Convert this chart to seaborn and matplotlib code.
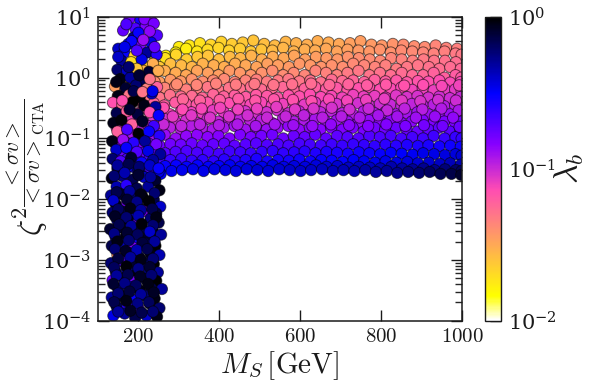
"""Relic density ratio vs scalar mass, coloured by lambda_b."""
import matplotlib
matplotlib.use('Agg')
import matplotlib.pyplot as plt
from matplotlib.colors import LogNorm
from matplotlib.cm import ScalarMappable
from matplotlib.ticker import LogLocator, NullLocator, FixedLocator, NullFormatter
import pandas as pd
import seaborn as sns

# --- main band ---
band_ms = [
    300,326,352,379,405,431,458,484,511,537,564,590,617,643,670,696,723,749,776,802,829,855,882,908,935,961,988,
    268,292,318,345,371,398,424,451,478,504,531,558,584,611,637,664,691,717,744,771,797,824,850,877,904,930,957,984,999,
    240,266,293,319,346,372,399,426,452,479,505,532,559,585,612,639,665,692,718,745,772,798,825,851,878,905,931,958,985,
    212,238,252,279,306,332,359,386,412,439,465,492,519,545,572,598,625,652,678,705,731,758,785,811,838,864,891,918,944,971,997,
    186,212,238,265,292,318,345,372,398,425,451,478,505,531,558,584,611,638,664,691,717,744,771,797,824,851,877,904,930,957,984,998,
    170,198,225,252,279,305,332,359,385,412,438,465,492,518,545,571,598,625,651,678,704,731,758,784,811,838,864,891,917,944,971,997,
    156,184,211,238,265,291,318,345,371,398,424,451,478,504,531,557,584,611,637,664,690,717,744,770,797,824,850,877,903,930,957,983,999,
    149,170,198,225,252,278,305,332,358,385,411,438,465,491,518,544,571,598,624,651,677,704,731,757,784,811,837,864,890,917,944,970,996,
    158,184,211,238,264,291,318,344,371,397,424,451,477,504,530,557,584,610,637,663,690,717,743,770,797,823,850,876,903,930,956,983,999,
    150,171,198,225,251,278,305,331,358,384,411,438,464,491,517,544,571,597,624,650,677,704,730,757,784,810,837,863,890,917,943,970,996,
    158,184,211,238,264,291,318,344,371,397,424,451,477,504,530,557,584,610,637,663,690,717,743,770,797,823,850,876,903,930,956,983,999,
    146,171,198,225,251,278,305,331,358,384,411,438,464,491,517,544,571,597,624,650,677,704,730,757,784,810,837,863,890,917,943,970,996,
    158,185,212,238,265,292,318,345,371,398,425,451,478,504,531,558,584,611,637,664,691,717,744,771,797,824,850,877,904,930,957,984,999,
    144,172,199,225,252,279,305,332,358,385,412,438,465,491,518,545,571,598,624,651,678,704,731,758,784,811,837,864,891,917,944,971,997,
    155,186,212,239,266,292,319,345,372,399,425,452,478,505,532,558,585,611,638,665,691,718,745,771,798,824,851,878,904,931,958,984,999,
    142,172,199,226,253,279,306,332,359,386,412,439,465,492,519,545,572,598,625,652,678,705,732,758,785,811,838,865,891,918,945,971,997,
    150,186,213,240,266,293,319,346,373,399,426,452,479,506,532,559,585,612,639,665,692,719,745,772,798,825,852,878,905,932,958,985,999,
    200,228,255,282,308,335,361,388,415,441,468,494,521,548,574,601,627,654,681,707,734,761,787,814,840,867,894,920,947,974,998,
    310,352,401,447,489,535,582,628,671,716,763,808,851,897,941,985,
    262,309,356,402,446,493,541,587,633,678,722,769,815,858,902,949,992,
    285,331,377,424,470,518,564,609,655,702,747,793,840,886,933,978,
    262,306,352,399,445,490,537,583,630,676,721,768,813,860,906,952,994,
    295,344,392,441,487,534,580,627,672,719,765,812,857,904,950,993,
]
band_ratio = [
    3.2,3.4,3.7,3.5,3.9,3.6,3.8,4.1,3.6,3.4,3.9,3.7,3.5,4.0,3.8,3.6,3.7,4.0,3.5,3.4,3.6,3.5,3.3,3.2,3.4,3.1,3.0,
    2.3,2.6,3.0,2.7,2.9,3.1,2.8,3.0,2.7,2.9,2.8,3.1,2.7,2.9,2.8,3.0,2.7,2.9,2.8,2.7,2.9,2.6,2.8,2.7,2.6,2.5,2.7,2.5,2.4,
    2.3,2.1,2.4,2.0,2.2,2.3,2.0,2.2,2.1,2.3,2.0,2.2,2.1,2.3,2.0,2.2,2.1,2.0,2.2,2.1,2.0,1.9,2.1,2.0,1.9,2.0,1.9,1.9,1.8,
    1.6,1.7,1.5,1.7,1.6,1.5,1.7,1.6,1.5,1.7,1.6,1.5,1.7,1.6,1.5,1.7,1.6,1.5,1.6,1.5,1.7,1.6,1.5,1.6,1.4,1.5,1.6,1.5,1.4,1.5,1.4,
    1.2,1.3,1.1,1.3,1.2,1.1,1.3,1.2,1.1,1.3,1.2,1.1,1.2,1.3,1.1,1.2,1.1,1.3,1.2,1.1,1.2,1.3,1.1,1.2,1.1,1.2,1.1,1.1,1.2,1.0,1.1,1.0,
    .92,.88,.95,.85,.92,.87,.94,.86,.9,.95,.85,.9,.93,.86,.9,.95,.87,.9,.84,.93,.88,.9,.85,.92,.87,.9,.84,.88,.86,.9,.83,.85,
    .68,.65,.7,.63,.68,.72,.64,.67,.7,.63,.68,.66,.71,.64,.67,.7,.63,.66,.7,.65,.68,.63,.67,.7,.64,.66,.69,.63,.66,.62,.65,.64,.61,
    .5,.53,.48,.51,.47,.52,.49,.5,.47,.53,.49,.51,.48,.52,.5,.47,.51,.49,.53,.48,.5,.47,.52,.49,.5,.47,.51,.48,.5,.47,.49,.46,.48,
    .37,.39,.36,.38,.35,.39,.37,.36,.39,.35,.38,.37,.36,.39,.35,.37,.38,.36,.39,.35,.37,.36,.38,.35,.37,.36,.34,.37,.35,.36,.34,.35,.36,
    .27,.28,.26,.29,.27,.25,.28,.27,.26,.29,.27,.25,.28,.26,.27,.29,.26,.28,.25,.27,.28,.26,.25,.28,.26,.27,.25,.26,.27,.25,.26,.25,.24,
    .2,.21,.19,.2,.21,.19,.2,.18,.21,.19,.2,.21,.19,.2,.18,.21,.19,.2,.21,.19,.2,.19,.18,.2,.19,.2,.18,.19,.2,.18,.19,.18,.19,
    .15,.14,.15,.16,.14,.15,.14,.16,.15,.14,.15,.16,.14,.15,.14,.15,.16,.14,.15,.14,.15,.14,.15,.13,.15,.14,.15,.14,.13,.14,.15,.13,.14,
    .11,.12,.105,.11,.115,.1,.11,.115,.105,.11,.1,.115,.105,.11,.115,.1,.11,.105,.115,.1,.11,.105,.1,.11,.105,.11,.1,.105,.1,.11,.1,.105,.1,
    .08,.083,.078,.082,.076,.081,.079,.083,.077,.08,.082,.076,.08,.083,.078,.08,.076,.082,.079,.077,.08,.076,.08,.078,.075,.079,.076,.078,.075,.077,.074,.076,.073,
    .06,.062,.058,.061,.057,.06,.062,.058,.06,.056,.061,.059,.057,.06,.062,.057,.059,.061,.057,.06,.058,.056,.059,.057,.055,.058,.056,.054,.057,.055,.053,.055,.052,
    .045,.046,.043,.045,.042,.044,.046,.043,.044,.042,.045,.043,.044,.046,.042,.044,.043,.045,.042,.044,.043,.041,.044,.042,.04,.042,.04,.041,.039,.04,.038,.039,.037,
    .036,.034,.035,.033,.035,.036,.034,.036,.034,.035,.036,.034,.035,.034,.036,.034,.035,.034,.036,.034,.035,.033,.034,.033,.032,.034,.032,.031,.032,.03,.031,.03,.029,
    .027,.026,.026,.029,.03,.031,.029,.031,.03,.029,.031,.03,.029,.031,.03,.029,.03,.031,.029,.03,.029,.03,.028,.029,.027,.028,.027,.028,.026,.026,.025,
    .44,.42,.43,.45,.42,.44,.43,.41,.44,.42,.43,.45,.42,.41,.43,.42,
    .32,.3,.31,.32,.3,.31,.33,.3,.31,.32,.3,.31,.29,.31,.3,.31,.29,
    .23,.24,.22,.23,.24,.22,.23,.24,.22,.23,.22,.24,.23,.22,.23,.22,
    .17,.16,.17,.165,.17,.16,.17,.165,.16,.17,.165,.16,.17,.16,.165,.16,.155,
    .78,.76,.8,.77,.79,.76,.78,.8,.76,.78,.75,.77,.74,.76,.73,.75,
]
band_lam = [
    .017,.018,.019,.021,.022,.023,.024,.025,.026,.027,.028,.029,.03,.03,.031,.032,.034,.035,.036,.037,.038,.04,.04,.041,.043,.044,.046,
    .016,.016,.017,.018,.02,.021,.022,.023,.024,.025,.027,.028,.029,.03,.031,.032,.033,.034,.036,.037,.038,.039,.041,.042,.043,.045,.046,.048,.049,
    .016,.019,.021,.023,.024,.025,.026,.027,.028,.029,.03,.031,.032,.033,.034,.035,.036,.037,.038,.04,.041,.042,.043,.045,.046,.048,.05,.052,.054,
    .024,.024,.024,.026,.027,.028,.029,.03,.03,.031,.032,.033,.034,.035,.036,.037,.037,.038,.039,.04,.042,.043,.044,.046,.047,.049,.05,.052,.054,.055,.057,
    .028,.029,.029,.03,.031,.032,.033,.034,.035,.036,.037,.038,.039,.04,.041,.042,.043,.044,.045,.046,.048,.049,.051,.052,.054,.055,.057,.058,.06,.061,.063,.064,
    .032,.033,.034,.035,.036,.037,.038,.04,.041,.042,.043,.044,.046,.047,.048,.049,.05,.052,.053,.055,.056,.058,.06,.061,.063,.065,.066,.068,.07,.072,.074,.075,
    .038,.04,.041,.042,.043,.044,.046,.047,.049,.05,.051,.053,.054,.055,.056,.057,.059,.06,.062,.064,.065,.067,.069,.07,.072,.074,.075,.078,.08,.082,.084,.086,.087,
    .045,.047,.048,.05,.051,.052,.054,.055,.057,.058,.06,.062,.063,.064,.066,.067,.069,.07,.072,.074,.076,.078,.08,.082,.083,.085,.087,.09,.092,.094,.096,.098,.1,
    .055,.056,.058,.06,.062,.063,.065,.066,.068,.07,.072,.073,.075,.076,.078,.08,.082,.084,.086,.088,.09,.092,.094,.096,.098,.1,.102,.105,.107,.11,.112,.114,.116,
    .065,.067,.07,.072,.074,.076,.078,.08,.082,.084,.086,.088,.09,.092,.094,.096,.098,.1,.102,.104,.106,.108,.11,.113,.115,.118,.12,.123,.125,.128,.13,.133,.135,
    .078,.08,.084,.088,.09,.092,.094,.096,.098,.1,.102,.104,.106,.108,.11,.112,.115,.117,.12,.122,.125,.127,.13,.132,.135,.137,.14,.143,.146,.15,.153,.156,.16,
    .09,.095,.1,.103,.105,.108,.11,.112,.115,.118,.12,.122,.125,.128,.13,.133,.136,.138,.14,.143,.146,.15,.153,.156,.16,.163,.166,.17,.173,.176,.18,.185,.19,
    .115,.12,.125,.128,.13,.133,.136,.14,.143,.146,.15,.153,.156,.16,.163,.166,.17,.173,.176,.18,.184,.188,.19,.195,.2,.204,.208,.212,.216,.22,.225,.23,.235,
    .14,.145,.15,.155,.16,.163,.166,.17,.173,.176,.18,.184,.188,.19,.195,.2,.204,.208,.212,.216,.22,.225,.23,.235,.24,.245,.25,.26,.265,.27,.28,.285,.29,
    .17,.175,.18,.185,.19,.195,.2,.204,.208,.212,.216,.22,.225,.23,.235,.24,.245,.25,.26,.265,.27,.28,.285,.29,.3,.31,.32,.33,.34,.35,.36,.37,.38,
    .2,.205,.21,.215,.22,.225,.23,.235,.24,.245,.25,.255,.26,.265,.27,.275,.28,.285,.29,.3,.305,.31,.32,.33,.34,.35,.36,.37,.38,.39,.41,.43,.45,
    .26,.27,.28,.29,.3,.3,.31,.31,.32,.32,.33,.33,.34,.34,.35,.35,.36,.36,.37,.38,.39,.4,.41,.42,.44,.46,.48,.5,.52,.54,.58,.62,.66,
    .32,.33,.33,.34,.34,.35,.35,.36,.36,.37,.37,.38,.38,.39,.4,.4,.41,.42,.43,.44,.45,.47,.49,.51,.54,.57,.6,.64,.68,.72,.8,
    .058,.06,.062,.064,.066,.067,.069,.071,.074,.077,.08,.083,.086,.09,.094,.098,
    .07,.073,.075,.078,.08,.082,.085,.087,.09,.093,.096,.1,.103,.106,.11,.114,.118,
    .085,.088,.09,.093,.096,.1,.103,.106,.11,.113,.117,.12,.124,.128,.132,.137,
    .1,.105,.108,.112,.116,.12,.124,.128,.132,.136,.14,.145,.15,.155,.16,.165,.17,
    .041,.043,.045,.047,.049,.051,.053,.055,.058,.06,.063,.066,.069,.072,.075,.078,
]

# --- low-mass column, drawn on top of the band ---
col_ms = [
    178,205,232,192,218,162,188,246,175,204,231,150,165,190,222,245,158,182,208,236,148,172,196,226,249,
    155,180,212,240,142,168,194,221,246,150,177,203,233,137,160,186,214,242,146,171,198,228,250,
    138,158,184,210,238,148,172,200,226,252,135,162,188,216,244,145,170,196,224,254,
    136,156,182,208,236,148,174,200,228,250,134,160,186,214,242,146,170,196,224,252,
    132,158,184,210,238,144,172,198,226,254,136,162,188,216,244,148,174,200,230,250,
    130,156,182,208,236,144,170,196,224,256,134,160,186,214,242,148,176,202,230,252,
    132,158,184,212,238,144,172,198,226,248,136,164,190,218,244,150,178,204,232,258,
    134,160,186,214,240,146,172,200,228,252,138,166,192,220,246,
    215,238,170,200,228,183,212,166,196,240,
    150,176,202,228,145,188,210,235,160,178,
    148,176,202,228,250,
    140,166,200,230,146,178,206,240,138,172,196,226,150,180,206,234,
    142,170,200,244,152,182,208,236,140,172,198,228,148,176,210,240,
    142,168,196,222,150,180,206,236,140,170,200,228,146,174,204,232,
    138,166,194,224,150,178,206,238,140,170,198,226,150,180,208,236,
]
col_ratio = [
    9.5,8.8,8.5,6.5,7.0,6.0,4.6,5.0,3.6,3.3,3.8,3.0,2.6,2.3,2.6,2.4,1.9,1.8,2.0,1.7,1.35,1.3,1.4,1.25,1.3,
    .95,1.0,.9,.85,.72,.68,.75,.66,.7,.5,.52,.48,.55,.39,.36,.4,.35,.33,.26,.28,.25,.27,.24,
    .18,.2,.17,.19,.16,.13,.14,.12,.13,.11,.09,.095,.085,.09,.08,.065,.07,.06,.062,.055,
    .046,.042,.048,.04,.044,.032,.034,.03,.033,.028,.022,.024,.021,.023,.02,.016,.017,.015,.016,.014,
    .0115,.012,.0105,.011,.0098,.0082,.0086,.0078,.0084,.0075,.006,.0062,.0056,.0064,.0058,.0044,.0046,.0042,.0048,.0041,
    .0032,.0034,.003,.0033,.0029,.0023,.0025,.0022,.0024,.0026,.0017,.0018,.0016,.0019,.0017,.0012,.0013,.0011,.00125,.0012,
    .00088,.00095,.00082,.0009,.00085,.00063,.00068,.0006,.00066,.00062,.00046,.0005,.00044,.00048,.00045,.00033,.00036,.00031,.00034,.00033,
    .00024,.00025,.00022,.00026,.00023,.00017,.00018,.00016,.00019,.00016,.00012,.00013,.00011,.00012,.000115,
    9.2,7.8,7.6,5.5,5.8,4.0,4.2,3.2,2.8,3.2,
    2.2,1.5,1.1,.95,.85,.6,.58,.6,.42,.3,
    .036,.038,.034,.036,.032,
    .024,.027,.025,.023,.013,.0135,.012,.0125,.0095,.0098,.009,.0092,.0068,.007,.0066,.0069,
    .0052,.005,.0053,.005,.0038,.0036,.0039,.0037,.0027,.0028,.0026,.0029,.002,.0021,.0019,.002,
    .0015,.0014,.00145,.0015,.00105,.0011,.001,.00104,.00075,.00078,.00072,.00076,.00055,.00057,.00053,.00056,
    .0004,.00041,.00038,.0004,.00028,.0003,.00027,.00029,.0002,.00021,.00019,.0002,.00014,.000145,.000135,.00014,
]
col_lam = [
    .16,.28,.13,.2,.15,.18,.55,.2,.3,.16,.35,.4,.3,.022,.5,.25,.5,.02,.35,.03,.6,.4,.025,.8,.03,
    .9,.5,.7,.04,.035,.8,.6,.045,.06,.9,.05,.95,.4,.07,.055,1.,.9,.5,.7,.06,.75,.07,.3,
    .9,.95,.06,.85,.22,.06,.2,1.,.3,.25,.9,.13,.25,.5,.16,.4,.3,.2,.35,.5,
    .6,.2,.8,.3,.5,.7,.35,.6,.2,.35,.9,.55,.7,.4,.8,.45,.25,.7,.5,.9,
    .5,.8,.6,.95,.7,.9,.16,.7,1.,.4,.6,.7,.35,.15,.8,.5,.9,.17,.6,.7,
    .8,.8,.5,.7,.9,.6,.9,.3,.8,.5,.7,.4,.15,.6,1.,.04,.5,.7,.9,.45,
    .6,.2,.8,.5,1.,.7,.4,.9,.6,.5,.18,.8,.16,.7,1.,.6,.3,.9,.7,.5,
    .5,.8,.3,.6,.9,.7,.25,.2,.8,.6,.35,.5,.7,.4,.9,
    .15,.16,.2,.3,.14,.3,.13,.35,.2,.18,
    .4,.6,.8,.05,.9,.7,.05,.35,.07,.8,
    .5,.7,.6,.4,.3,
    .6,.45,.8,.5,.7,.5,.9,.6,.4,.8,.55,.95,.65,.9,.5,.7,
    .85,.6,.45,.9,.7,.5,.95,.6,.55,.8,.65,.4,.9,.6,.75,.5,
    .6,.85,.45,.7,.75,.5,.9,.6,.65,.95,.55,.8,.5,.7,.85,.6,
    .8,.55,.65,.9,.6,.75,.5,.85,.7,.9,.55,.65,.5,.85,.7,.6,
]

cbar_ticks = [1e-2, 1e-1, 1e0]

sns.set_theme(style="ticks")
plt.rcParams['mathtext.fontset'] = 'cm'
plt.rcParams['font.family'] = 'serif'
plt.rcParams['axes.unicode_minus'] = False

band = pd.DataFrame({'ms': band_ms, 'ratio': band_ratio, 'lam': band_lam})
column = pd.DataFrame({'ms': col_ms, 'ratio': col_ratio, 'lam': col_lam})
points = pd.concat([band, column], ignore_index=True)

W, H = 591, 390
fig = plt.figure(figsize=(W / 100, H / 100), dpi=100)
ax = fig.add_axes([98 / W, 1 - 320.5 / H, 364 / W, 303.5 / H])
cax = fig.add_axes([485 / W, 1 - 320.5 / H, 16 / W, 303.5 / H])

norm = LogNorm(vmin=1e-2, vmax=1)
sns.scatterplot(
    data=points, x='ms', y='ratio', hue='lam',
    hue_norm=norm, palette='gnuplot2_r', legend=False,
    s=66, edgecolor=(0, 0, 0, 0.55), linewidth=0.7, ax=ax,
)

ax.set_yscale('log')
ax.set_xlim(100, 1000)
ax.set_ylim(1e-4, 1e1)
ax.xaxis.set_major_locator(FixedLocator([200, 400, 600, 800, 1000]))
ax.xaxis.set_minor_locator(NullLocator())
ax.set_xticklabels([f'${v}$' for v in [200, 400, 600, 800, 1000]])
ax.yaxis.set_major_locator(LogLocator(base=10, numticks=10))
ax.yaxis.set_minor_locator(LogLocator(base=10, subs=range(2, 10), numticks=10))
ax.yaxis.set_minor_formatter(NullFormatter())
ax.tick_params(which='major', direction='in', length=8, width=1, top=True, right=True,
               labelsize=15, colors='k', pad=5)
ax.tick_params(which='minor', direction='in', length=5, width=1, left=True, right=True)
for spine in ax.spines.values():
    spine.set_linewidth(1.1)
    spine.set_color('k')

ax.set_xlabel(r'$M_S\,[\mathrm{GeV}]$', fontsize=21, color='k', labelpad=2)
ax.set_ylabel('')
# y label in two parts: the big zeta sits beside a smaller fraction
fig.text(31 / W, 1 - 221 / H, r'$\zeta^2$', fontsize=23, color='k',
         rotation=90, ha='center', va='center')
fig.text(26 / W, 1 - 153 / H, r'$\dfrac{{<}\sigma v{>}}{{<}\sigma v{>}_{\mathrm{CTA}}}$',
         fontsize=15.5, color='k', rotation=90, ha='center', va='center')

cb = fig.colorbar(ScalarMappable(norm=norm, cmap='gnuplot2_r'), cax=cax)
cb.set_ticks(cbar_ticks)
cb.ax.tick_params(which='major', direction='in', length=8, width=1, labelsize=15, colors='k', pad=5)
cb.ax.tick_params(which='minor', direction='in', length=5, width=1, colors='k')
cb.outline.set_linewidth(1.0)
cb.outline.set_edgecolor('k')
cb.set_label(r'$\lambda_b$', fontsize=24, color='k', labelpad=-3)

fig.savefig('out.png', dpi=100)
plt.close()
